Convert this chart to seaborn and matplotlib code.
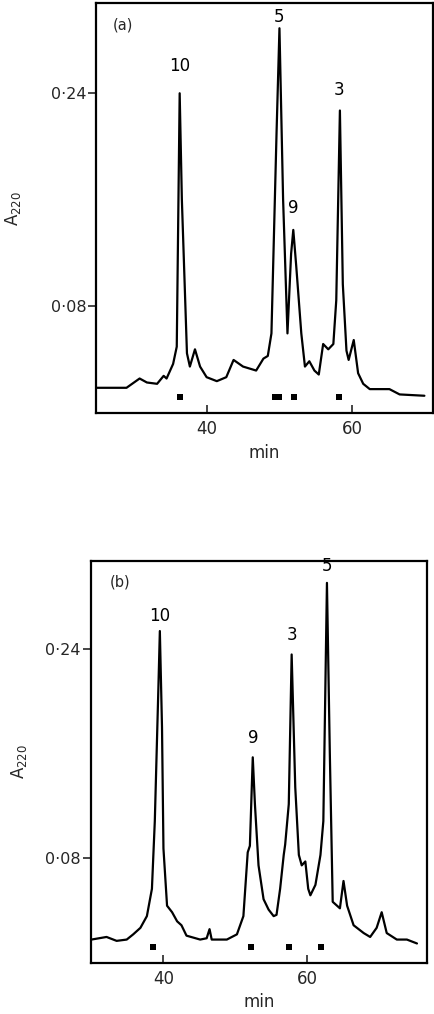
import numpy as np
import pandas as pd
import matplotlib
matplotlib.use("Agg")
import matplotlib.pyplot as plt
import seaborn as sns

# ---- Panel (a) trace ----
a_time = [24.9, 29.0, 30.8, 31.8, 33.2, 34.1, 34.5, 35.4, 35.9, 36.3, 36.6, 37.3, 37.7,
          38.4, 39.1, 40.0, 41.4, 42.7, 43.7, 45.0, 46.8, 47.8, 48.4, 48.9, 49.6, 50.0,
          50.5, 51.1, 51.6, 51.9, 52.3, 53.0, 53.5, 54.1, 54.8, 55.4, 56.0, 56.7, 57.4,
          57.8, 58.3, 58.7, 59.2, 59.5, 60.2, 60.8, 61.5, 62.4, 65.1, 66.5, 69.9]
a_abs = [0.018, 0.018, 0.025, 0.022, 0.021, 0.027, 0.025, 0.036, 0.049, 0.240, 0.160,
         0.044, 0.034, 0.047, 0.034, 0.026, 0.023, 0.026, 0.039, 0.034, 0.031, 0.040,
         0.042, 0.059, 0.210, 0.289, 0.160, 0.059, 0.119, 0.137, 0.110, 0.059, 0.034,
         0.038, 0.031, 0.028, 0.051, 0.047, 0.051, 0.084, 0.227, 0.096, 0.046, 0.039,
         0.054, 0.029, 0.021, 0.017, 0.017, 0.013, 0.012]
a_marks = [36.4, 49.4, 49.9, 52.0, 58.2]
a_peak_labels = ["10", "5", "9", "3"]
a_peak_x = [36.3, 50.0, 51.9, 58.2]
a_peak_y = [0.254, 0.291, 0.147, 0.236]

# ---- Panel (b) trace ----
b_time = [30.0, 32.1, 33.5, 34.9, 35.8, 36.8, 37.7, 38.4, 38.8, 39.3, 39.5, 39.8, 40.0,
          40.5, 41.2, 41.9, 42.5, 43.2, 45.1, 46.0, 46.4, 46.7, 48.8, 50.2, 51.1, 51.7,
          52.0, 52.4, 52.7, 53.2, 53.9, 54.6, 55.3, 55.7, 56.2, 56.7, 56.9, 57.4, 57.8,
          58.3, 58.8, 59.2, 59.7, 60.1, 60.4, 61.1, 61.8, 62.2, 62.7, 63.1, 63.5, 64.1,
          64.5, 65.0, 65.5, 66.4, 67.8, 68.7, 69.6, 70.3, 71.0, 72.4, 73.8, 75.2]
b_abs = [0.017, 0.019, 0.016, 0.017, 0.021, 0.026, 0.035, 0.056, 0.108, 0.211, 0.254,
         0.180, 0.087, 0.043, 0.038, 0.031, 0.028, 0.020, 0.017, 0.018, 0.025, 0.017,
         0.017, 0.021, 0.035, 0.084, 0.089, 0.157, 0.121, 0.074, 0.048, 0.040, 0.035,
         0.036, 0.056, 0.082, 0.090, 0.121, 0.236, 0.134, 0.082, 0.074, 0.077, 0.056,
         0.051, 0.059, 0.082, 0.108, 0.291, 0.160, 0.046, 0.043, 0.041, 0.062, 0.043,
         0.028, 0.022, 0.019, 0.026, 0.038, 0.022, 0.017, 0.017, 0.014]
b_marks = [38.6, 52.1, 57.4, 61.9]
b_peak_labels = ["10", "9", "3", "5"]
b_peak_x = [39.5, 52.4, 57.8, 62.7]
b_peak_y = [0.259, 0.165, 0.244, 0.297]

y_ticks = [0.08, 0.24]
y_ticklabels = ["0·08", "0·24"]
x_ticks = [40, 60]
x_ticklabels = ["40", "60"]

sns.set_theme(style="white")
plt.rcParams["font.family"] = ["DejaVu Sans"]

fig = plt.figure(figsize=(4.34, 10.14), dpi=100)
ax_a = fig.add_axes([0.221, 0.5927, 0.777, 0.4043])
ax_b = fig.add_axes([0.209, 0.0503, 0.775, 0.3967])

panels = [
    (ax_a, a_time, a_abs, a_marks, a_peak_labels, a_peak_x, a_peak_y, "(a)", (24.8, 71.1), 0.05, 20),
    (ax_b, b_time, b_abs, b_marks, b_peak_labels, b_peak_x, b_peak_y, "(b)", (29.9, 76.6), 0.057, 12),
]

for ax, t, v, marks, plabels, px, py, tag, xlim, tagx, ylpad in panels:
    df = pd.DataFrame({"min": t, "A220": v})
    sns.lineplot(data=df, x="min", y="A220", ax=ax, color="black", linewidth=1.6,
                 sort=False, estimator=None)
    mdf = pd.DataFrame({"min": marks, "A220": [0.011] * len(marks)})
    sns.scatterplot(data=mdf, x="min", y="A220", ax=ax, marker="s", color="black",
                    s=16, linewidth=0)
    for lab, x, y in zip(plabels, px, py):
        ax.text(x, y, lab, ha="center", va="bottom", fontsize=12, color="black")
    ax.text(tagx, 0.947, tag, transform=ax.transAxes, fontsize=10.5, ha="left", va="center")
    ax.set_xlim(*xlim)
    ax.set_ylim(-0.001, 0.308)
    ax.set_xticks(x_ticks)
    ax.set_xticklabels(x_ticklabels, fontsize=12)
    ax.set_yticks(y_ticks)
    ax.set_yticklabels(y_ticklabels, fontsize=11.5)
    ax.tick_params(axis="x", direction="in", length=6, width=1.2, bottom=True, pad=5)
    ax.tick_params(axis="y", direction="out", length=6, width=1.2, left=True, pad=1)
    ax.set_xlabel("min", fontsize=12, labelpad=4)
    ax.set_ylabel("A$_{220}$", fontsize=12, labelpad=ylpad)
    for sp in ax.spines.values():
        sp.set_visible(True)
        sp.set_color("black")
        sp.set_linewidth(1.6)

fig.savefig("out.png", dpi=100, facecolor="white")
